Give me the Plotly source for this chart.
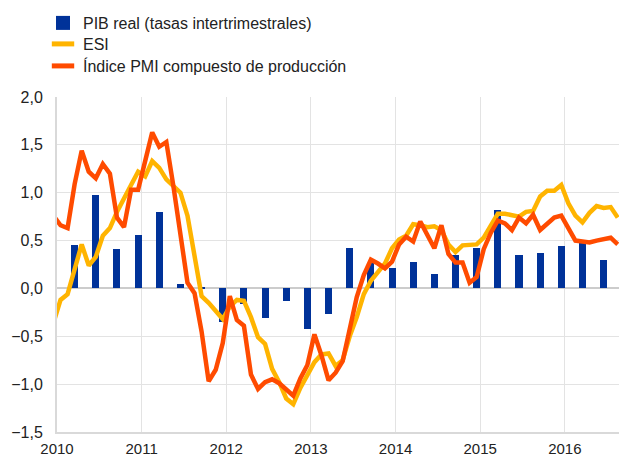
import plotly.graph_objects as go

# ---- data ----
quarters = [f"{y}Q{q}" for y in range(2010, 2017) for q in range(1, 5)][:26]
gdp = [0.45, 0.98, 0.41, 0.56, 0.80, 0.05, 0.02, -0.35, -0.16, -0.31, -0.13, -0.42,
       -0.27, 0.42, 0.27, 0.21, 0.28, 0.15, 0.35, 0.42, 0.82, 0.35, 0.37, 0.44, 0.47, 0.30]

months = ["2009-12"] + [f"{y}-{m:02d}" for y in range(2010, 2017) for m in range(1, 13)][:80]
esi = [-0.36, -0.12, -0.06, 0.20, 0.46, 0.24, 0.33, 0.55, 0.63, 0.80, 0.95, 1.08, 1.22,
       1.17, 1.33, 1.26, 1.14, 1.07, 1.00, 0.76, 0.34, -0.08, -0.15, -0.23, -0.32,
       -0.19, -0.12, -0.13, -0.30, -0.51, -0.58, -0.84, -0.98, -1.15, -1.21, -1.04, -0.90,
       -0.77, -0.69, -0.68, -0.81, -0.75, -0.50, -0.30, -0.06, 0.08, 0.17, 0.26, 0.42,
       0.51, 0.55, 0.67, 0.66, 0.64, 0.65, 0.61, 0.46, 0.38, 0.45, 0.45, 0.46,
       0.53, 0.65, 0.78, 0.78, 0.77, 0.75, 0.80, 0.81, 0.96, 1.02, 1.02, 1.08,
       0.89, 0.76, 0.69, 0.79, 0.86, 0.84, 0.85, 0.74]
pmi = [0.76, 0.66, 0.63, 1.09, 1.44, 1.22, 1.15, 1.30, 1.20, 0.74, 0.64, 1.03, 1.03,
       1.35, 1.63, 1.48, 1.53, 1.07, 0.53, 0.06, -0.05, -0.45, -0.97, -0.85, -0.57,
       -0.08, -0.33, -0.39, -0.90, -1.05, -0.98, -0.95, -0.99, -1.05, -1.12, -0.94, -0.80,
       -0.48, -0.70, -0.96, -0.88, -0.76, -0.43, -0.09, 0.14, 0.30, 0.26, 0.21, 0.28,
       0.46, 0.54, 0.49, 0.70, 0.57, 0.42, 0.66, 0.36, 0.27, 0.27, 0.06, 0.12,
       0.41, 0.58, 0.71, 0.68, 0.61, 0.74, 0.68, 0.77, 0.61, 0.68, 0.74, 0.76,
       0.62, 0.50, 0.49, 0.48, 0.50, 0.51, 0.53, 0.46]

years = [2010, 2011, 2012, 2013, 2014, 2015, 2016]
year_labels = [str(y) for y in years]

names = ["PIB real (tasas intertrimestrales)", "ESI", "Índice PMI compuesto de producción"]

BLUE = "#003299"
YELLOW = "#FFB400"
ORANGE = "#FF4B00"


def month_x(s):
    y, m = s.split("-")
    return int(y) + (int(m) - 0.5) / 12


def quarter_x(s):
    y, q = s.split("Q")
    return int(y) + (3 * int(q) - 0.5) / 12


mx = [month_x(s) for s in months]
qx = [quarter_x(s) for s in quarters]

fig = go.Figure()
fig.add_trace(go.Bar(x=qx, y=gdp, width=1 / 12, marker=dict(color=BLUE, line=dict(width=0)),
                     showlegend=False))
fig.add_trace(go.Scatter(x=mx, y=esi, mode="lines", line=dict(color=YELLOW, width=4.5),
                         showlegend=False))
fig.add_trace(go.Scatter(x=mx, y=pmi, mode="lines", line=dict(color=ORANGE, width=4.5),
                         showlegend=False))
# legend entries (one legend per row for exact spacing)
fig.add_trace(go.Scatter(x=[None], y=[None], mode="markers", name=names[0], legend="legend",
                         marker=dict(symbol="square", size=14, color=BLUE)))
fig.add_trace(go.Scatter(x=[None], y=[None], mode="markers", name=names[1], legend="legend2",
                         marker=dict(symbol="line-ew", size=16, line=dict(width=6, color=YELLOW))))
fig.add_trace(go.Scatter(x=[None], y=[None], mode="markers", name=names[2], legend="legend3",
                         marker=dict(symbol="line-ew", size=16, line=dict(width=6, color=ORANGE))))

FONT = "Liberation Sans, Arial, sans-serif"
leg_common = dict(x=-0.0249, xanchor="left", yanchor="middle",
                  font=dict(family=FONT, size=16, color="#222222"),
                  bgcolor="rgba(0,0,0,0)", itemsizing="trace")

fig.update_layout(
    template="none",
    width=619, height=457,
    margin=dict(l=57, r=0, t=97, b=25, autoexpand=False),
    paper_bgcolor="white", plot_bgcolor="white",
    separators=", ",
    font=dict(family=FONT, size=16, color="#222222"),
    bargap=0,
    showlegend=True,
    legend=dict(y=1.2209, **leg_common),
    legend2=dict(y=1.1582, **leg_common),
    legend3=dict(y=1.0925, **leg_common),
    xaxis=dict(range=[2010, 2016.64], tickvals=years, ticktext=year_labels,
               showgrid=True, gridcolor="#e3e3e3", gridwidth=1, automargin=False,
               zeroline=False, showline=True, linecolor="#d9d9d9", linewidth=2,
               ticks="", tickfont=dict(size=15, color="#222222"), ticklabelstandoff=2),
    yaxis=dict(range=[-1.5, 2.0], dtick=0.5, tick0=0, tickformat=".1f",
               showgrid=True, gridcolor="#e3e3e3", gridwidth=1, automargin=False,
               zeroline=True, zerolinecolor="#cccccc", zerolinewidth=2,
               showline=True, linecolor="#d9d9d9", linewidth=2,
               ticks="", tickfont=dict(size=16, color="#222222"), ticklabelstandoff=9),
)

fig.write_html(
    "out.html",
    config={"displayModeBar": False},
    post_script="document.body.style.margin='0';document.body.style.overflow='hidden';",
)
